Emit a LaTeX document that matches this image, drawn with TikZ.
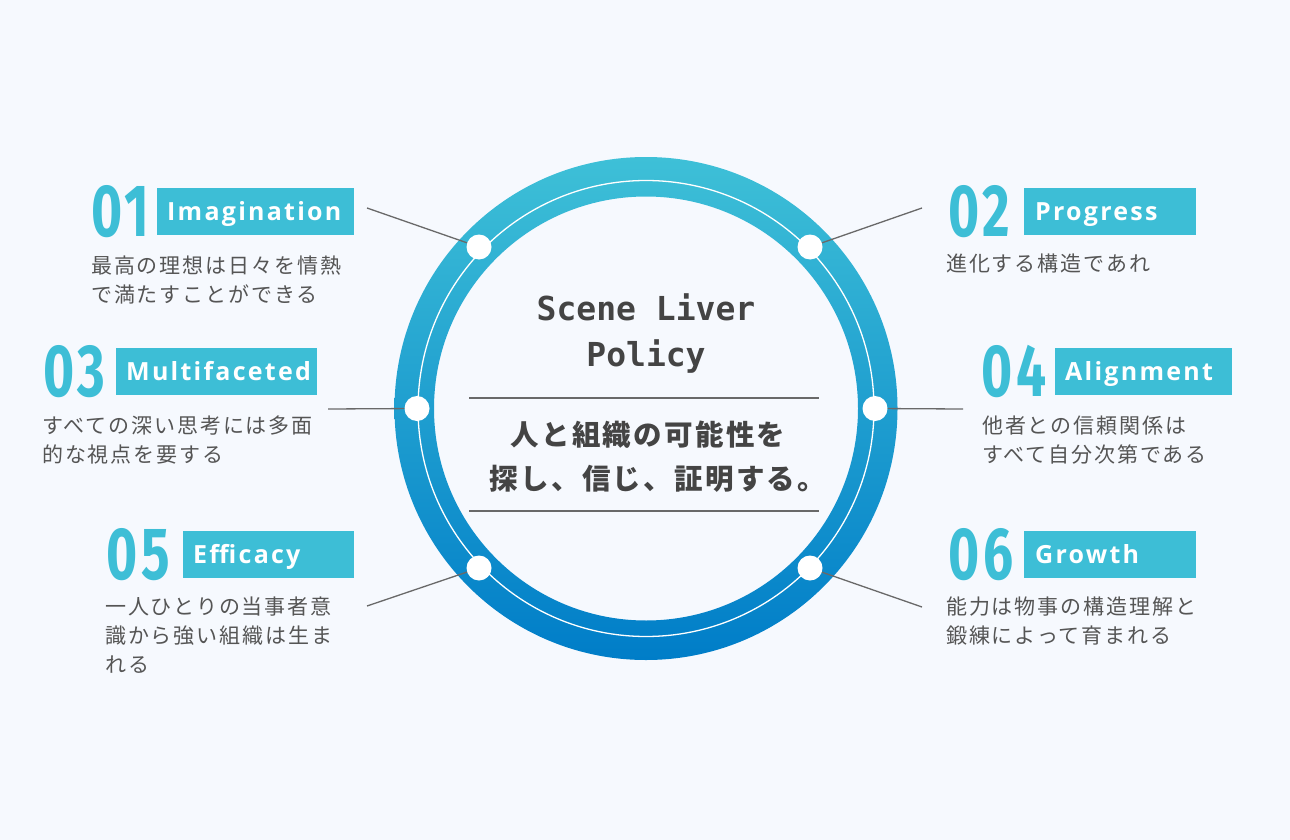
\documentclass[tikz,border=0pt]{standalone}
\usepackage{fontspec}
\setmainfont{Noto Sans}
\newfontfamily\cjkbody[LetterSpace=9]{Noto Sans CJK JP}
\newfontfamily\cjkmid[LetterSpace=8]{Noto Sans CJK JP}
\newfontfamily\labelfont[LetterSpace=9]{Open Sans}
\newfontfamily\numfont[FakeStretch=0.72,LetterSpace=5]{Fira Sans}
\newfontfamily\monofont{DejaVu Sans Mono}
\definecolor{bg}{RGB}{246,249,254}
\definecolor{accent}{RGB}{61,190,214}
\definecolor{ringtop}{RGB}{62,192,215}
\definecolor{ringbot}{RGB}{0,125,200}
\definecolor{txt}{RGB}{85,85,85}
\definecolor{dark}{RGB}{68,68,68}
\definecolor{linec}{RGB}{105,105,105}
\begin{document}
\begin{tikzpicture}[x=1pt,y=-1pt,
  num/.style={inner sep=0pt, anchor=base west, text=accent, font=\numfont\bfseries\fontsize{74}{74}\selectfont},
  lbox/.style={fill=accent, draw=none, anchor=north west, inner sep=0pt, minimum height=47pt},
  ltext/.style={inner sep=0pt, anchor=base west, text=white, font=\labelfont\bfseries\fontsize{25}{25}\selectfont},
  body/.style={inner sep=0pt, anchor=base west, text=txt, font=\cjkbody\fontsize{21}{21}\selectfont},
  dot/.style={circle, fill=white, inner sep=0pt, minimum size=25pt},
  conn/.style={draw=linec, line width=1.3pt},
  sep/.style={draw=linec, line width=1.3pt},
  title/.style={inner sep=0pt, anchor=base, text=dark, font=\monofont\bfseries\fontsize{33}{33}\selectfont},
  motto/.style={inner sep=0pt, anchor=base, text=dark, font=\cjkmid\bfseries\fontsize{28.5}{28.5}\selectfont},
]
\fill[bg] (0,0) rectangle (1290,840);
\useasboundingbox (0,0) rectangle (1290,840);

% ring
\coordinate (c) at (646,408.5);
\path[even odd rule, top color=ringtop, bottom color=ringbot] (c) circle (251.5pt) (c) circle (212pt);
\draw[white, line width=1.3pt] (c) circle (228pt);

% center text
\node[title] (title1) at (646,320) {Scene Liver};
\node[title] (title2) at (646,366) {Policy};
\coordinate (l1a) at (469,398); \coordinate (l1b) at (819,398);
\coordinate (l2a) at (469,511); \coordinate (l2b) at (819,511);
\draw[sep] (l1a) -- (l1b);
\draw[sep] (l2a) -- (l2b);
\node[motto] (m1) at (648,445.5) {人と組織の可能性を};
\node[motto] (m2) at (658,489.5) {探し、信じ、証明する。};

% dots and connector ends
\coordinate (e1) at (367,208);
\coordinate (e2) at (922,208);
\coordinate (e3) at (328,409);
\coordinate (e4) at (963,409);
\coordinate (e5) at (367,606);
\coordinate (e6) at (922,607);
\node[dot] (d1) at (479,247) {};
\node[dot] (d2) at (810,247) {};
\node[dot] (d3) at (417,408.5) {};
\node[dot] (d4) at (875,408.5) {};
\node[dot] (d5) at (479,568) {};
\node[dot] (d6) at (810,568) {};
\draw[conn] (e1) -- (d1);
\draw[conn] (e2) -- (d2);
\draw[conn] (e3) -- (d3);
\draw[conn] (e4) -- (d4);
\draw[conn] (e5) -- (d5);
\draw[conn] (e6) -- (d6);

% 01
\node[num] (n1) at (91,236) {01};
\node[lbox, minimum width=197pt] (b1) at (157,188) {};
\node[ltext] (k1) at ([xshift=10pt,yshift=15pt]b1.south west) {Imagination};
\node[body] (t1a) at (91,273) {最高の理想は日々を情熱};
\node[body] (t1b) at (91,302) {で満たすことができる};

% 02
\node[num] (n2) at (948,236) {02};
\node[lbox, minimum width=172pt] (b2) at (1024,188) {};
\node[ltext] (k2) at ([xshift=11pt,yshift=15pt]b2.south west) {Progress};
\node[body] (t2a) at (946,271) {進化する構造であれ};

% 03
\node[num] (n3) at (43,396) {03};
\node[lbox, minimum width=201pt] (b3) at (116,348) {};
\node[ltext] (k3) at ([xshift=10pt,yshift=15pt]b3.south west) {Multifaceted};
\node[body] (t3a) at (42,433) {すべての深い思考には多面};
\node[body] (t3b) at (42,462) {的な視点を要する};

% 04
\node[num] (n4) at (981,396) {04};
\node[lbox, minimum width=177pt] (b4) at (1055,348) {};
\node[ltext] (k4) at ([xshift=10pt,yshift=15pt]b4.south west) {Alignment};
\node[body] (t4a) at (982,433) {他者との信頼関係は};
\node[body] (t4b) at (982,462) {すべて自分次第である};

% 05
\node[num] (n5) at (106,579) {05};
\node[lbox, minimum width=171pt] (b5) at (183,531) {};
\node[ltext] (k5) at ([xshift=10pt,yshift=15pt]b5.south west) {Efficacy};
\node[body] (t5a) at (105,614.5) {一人ひとりの当事者意};
\node[body] (t5b) at (105,643.5) {識から強い組織は生ま};
\node[body] (t5c) at (105,672.5) {れる};

% 06
\node[num] (n6) at (948,579) {06};
\node[lbox, minimum width=172pt] (b6) at (1024,531) {};
\node[ltext] (k6) at ([xshift=11pt,yshift=15pt]b6.south west) {Growth};
\node[body] (t6a) at (946,614.5) {能力は物事の構造理解と};
\node[body] (t6b) at (946,643.5) {鍛練によって育まれる};
\end{tikzpicture}
\end{document}
